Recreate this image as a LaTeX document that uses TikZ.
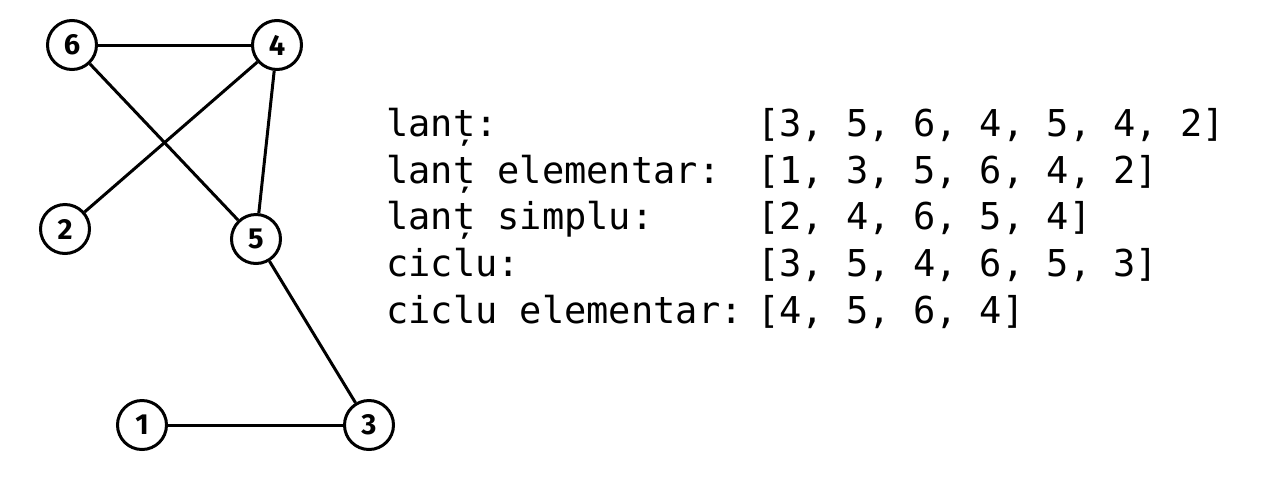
\documentclass[tikz,border=0pt]{standalone}
\usepackage{fontspec}
\setmainfont{DejaVu Sans}
\newfontfamily\labfont{Fira Sans}
\newfontfamily\codefont{DejaVu Sans Mono}
\begin{document}
\begin{tikzpicture}[x=1pt,y=-1pt,
  vtx/.style={circle,draw,line width=3pt,minimum size=49pt,inner sep=0pt,font=\labfont\bfseries\fontsize{29}{29}\selectfont},
  edge/.style={line width=3pt},
  code/.style={anchor=base west,inner sep=0pt,font=\codefont\fontsize{37}{40}\selectfont}]
\useasboundingbox (0,0) rectangle (1263,483);
\node[vtx] (n6) at (72,45) {6};
\node[vtx] (n4) at (277,45) {4};
\node[vtx] (n2) at (65,229) {2};
\node[vtx] (n5) at (256,239) {5};
\node[vtx] (n1) at (142,425) {1};
\node[vtx] (n3) at (369,425) {3};
\draw[edge] (n6) -- (n4);
\draw[edge] (n6) -- (n5);
\draw[edge] (n4) -- (n2);
\draw[edge] (n4) -- (n5);
\draw[edge] (n5) -- (n3);
\draw[edge] (n1) -- (n3);
\node[code] (l1) at (386,136) {lanț:};
\node[code] (l2) at (386,183) {lanț elementar:};
\node[code] (l3) at (386,229.5) {lanț simplu:};
\node[code] (l4) at (386,276) {ciclu:};
\node[code] (l5) at (386,323) {ciclu elementar:};
\node[code] (v1) at (757,136) {[3, 5, 6, 4, 5, 4, 2]};
\node[code] (v2) at (757,183) {[1, 3, 5, 6, 4, 2]};
\node[code] (v3) at (757,229.5) {[2, 4, 6, 5, 4]};
\node[code] (v4) at (757,276) {[3, 5, 4, 6, 5, 3]};
\node[code] (v5) at (757,323) {[4, 5, 6, 4]};
\end{tikzpicture}
\end{document}
